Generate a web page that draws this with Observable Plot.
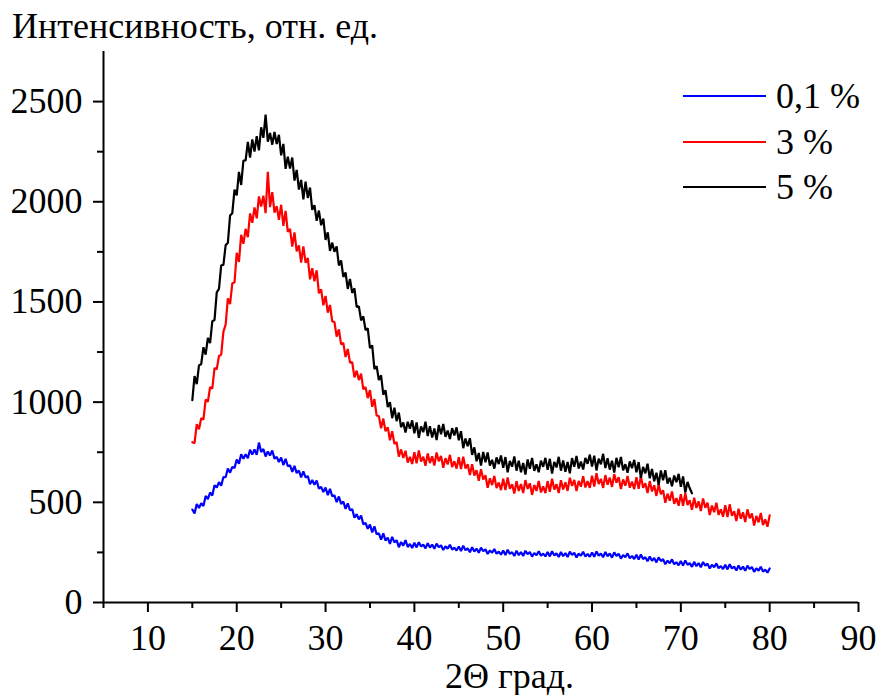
<!DOCTYPE html>
<html>
<head>
<meta charset="utf-8">
<script src="https://cdn.jsdelivr.net/npm/d3@7"></script>
<script src="https://cdn.jsdelivr.net/npm/@observablehq/plot@0.6"></script>
<style>
  html, body { margin: 0; padding: 0; background: #fff; }
  #wrap { position: relative; width: 880px; height: 695px; font-family: "Liberation Serif", "Times New Roman", serif; color: #000; }
  .lbl { position: absolute; font-size: 36px; line-height: 36px; white-space: nowrap; }
  .leg-line { position: absolute; height: 2px; width: 83px; left: 683px; }
</style>
</head>
<body>
<div id="wrap"></div>
<script>
const yTitle = "Интенсивность, отн. ед.";
const xTitle = "2Θ град.";
const seriesNames = ["0,1 %", "3 %", "5 %"];
const seriesColors = ["#0000ff", "#ff0000", "#000000"];
const xMajorTicks = [10, 20, 30, 40, 50, 60, 70, 80, 90];
const xMinorTicks = [5, 15, 25, 35, 45, 55, 65, 75, 85];
const yMajorTicks = [0, 500, 1000, 1500, 2000, 2500];
const yMinorTicks = [250, 750, 1250, 1750, 2250];
const angleStart = 15;
const angleStep = 0.25;

const blue = [
464,444,492,472,495,482,532,516,549,534,585,574,601,583,626,625,669,648,677,671,
714,693,740,718,740,720,762,738,764,737,798,751,766,729,754,734,759,718,727,701,
724,686,717,680,685,652,682,646,659,624,655,624,631,590,611,588,609,568,577,551,
574,536,567,530,535,501,529,492,504,467,495,461,466,423,441,415,434,391,397,368,
389,350,380,341,345,314,345,309,324,293,328,300,311,276,302,284,311,277,292,272,
298,275,301,280,289,270,296,274,289,268,294,276,286,262,280,269,288,264,274,259,
280,257,283,261,270,251,276,254,269,248,274,256,266,242,260,248,267,243,254,239,
260,237,263,242,251,232,258,236,252,232,258,241,252,229,247,236,256,233,244,230,
252,230,256,235,245,227,252,231,247,227,254,237,248,225,244,233,253,230,242,228,
250,228,255,234,244,226,252,231,245,224,250,233,243,219,237,226,245,221,232,217,
238,214,240,217,226,206,230,208,222,200,225,207,216,191,209,196,215,191,201,186,
207,184,210,188,197,178,203,181,197,176,202,184,194,170,188,176,195,171,182,167,
188,165,191,170,179,160,185,164,179,158,184,167,177,153,171,159,178,154,164,149,
170];

const red = [
800,795,890,865,920,913,1013,1002,1075,1068,1170,1164,1230,1237,1352,1387,
1518,1489,1593,1597,1745,1700,1835,1790,1865,1823,1942,1895,1972,1917,2027,1976,2030,1943,2150,1973,2048,1946,1978,1910,
1985,1880,1955,1850,1865,1776,1847,1752,1782,1697,1777,1696,1720,1613,1668,1603,1658,1543,1563,1483,
1530,1447,1485,1403,1400,1327,1363,1288,1295,1225,1265,1197,1200,1124,1157,1110,1142,1064,1075,1020,
1060,977,1015,933,930,870,918,855,875,810,855,792,800,728,764,721,757,698,727,691,
750,695,759,703,728,682,744,696,730,684,749,705,732,672,720,689,737,676,705,668,
725,666,728,669,690,636,690,634,660,608,665,614,635,573,620,586,632,571,599,561,
618,561,624,567,590,544,606,557,591,546,611,567,595,537,587,557,607,549,580,546,
606,552,618,564,590,546,610,564,600,557,623,582,612,556,607,578,630,574,606,572,
633,579,645,591,617,572,636,588,623,577,641,598,625,566,614,583,632,573,603,566,
625,567,630,573,595,546,606,554,585,532,590,540,560,498,543,508,554,493,521,483,
540,483,545,487,510,463,523,472,505,457,519,473,498,437,484,451,498,437,465,428,
485,427,490,433,455,407,468,418,450,402,465,420,445,384,432,400,447,386,415,378,
435];

const black = [
1010,1130,1090,1183,1190,1274,1237,1320,1295,1404,1410,1548,1565,1683,1685,1783,
1795,1931,1943,2061,2032,2149,2084,2205,2206,2299,2221,2311,2251,2327,2257,2372,2319,2435,2300,2343,2285,2348,2288,2334,
2232,2289,2164,2225,2166,2221,2106,2159,2061,2109,2012,2100,2019,2071,1960,1983,1905,1956,1883,1916,
1810,1847,1755,1796,1750,1777,1682,1707,1625,1647,1565,1615,1545,1568,1475,1478,1408,1428,1360,1368,
1270,1283,1165,1180,1110,1134,1037,1060,975,1000,920,972,905,948,875,898,848,902,867,909,
845,899,822,879,850,902,831,880,823,869,811,886,840,891,827,858,816,870,834,874,
810,855,770,818,780,820,737,774,705,746,683,751,700,749,683,712,668,724,691,734,
672,726,650,707,678,729,658,708,650,696,639,714,668,721,657,690,650,708,677,722,
662,717,643,702,674,727,658,709,653,701,645,721,677,731,669,703,664,722,692,738,
678,733,659,718,690,742,671,720,663,708,649,722,675,726,660,690,648,704,670,712,
650,701,622,677,645,693,620,666,605,648,587,659,610,660,593,623,580,634,600,642,
578,629,549,602,570,545];

const allSeries = [blue, red, black];
const rows = allSeries.flatMap((vals, s) =>
  vals.map((v, i) => ({angle: angleStart + i * angleStep, intensity: v, series: seriesNames[s]})));

const chart = Plot.plot({
  width: 880,
  height: 695,
  marginLeft: 103,
  marginRight: 22,
  marginTop: 51,
  marginBottom: 93,
  x: {domain: [5, 90]},
  y: {domain: [0, 2750]},
  color: {domain: seriesNames, range: seriesColors},
  style: {fontFamily: "'Liberation Serif', 'Times New Roman', serif", fontSize: "36px", color: "#000", background: "transparent"},
  marks: [
    Plot.axisY({ticks: yMajorTicks, tickSize: 10, tickPadding: 11, strokeWidth: 2, label: null, fontSize: 36, tickFormat: d => String(d)}),
    Plot.axisY({ticks: yMinorTicks, tickSize: 6, text: null, label: null, strokeWidth: 2}),
    Plot.axisX({ticks: xMajorTicks, tickSize: 10, tickPadding: 12, strokeWidth: 2, label: null, fontSize: 36, tickFormat: d => String(d)}),
    Plot.axisX({ticks: xMinorTicks, tickSize: 6, text: null, label: null, strokeWidth: 2}),
    Plot.ruleX([5], {strokeWidth: 2}),
    Plot.ruleY([0], {strokeWidth: 2}),
    Plot.line(rows, {x: "angle", y: "intensity", z: "series", stroke: "series", strokeWidth: 2.2, strokeLinejoin: "miter"})
  ]
});

const wrap = document.getElementById("wrap");
chart.style.position = "absolute";
chart.style.left = "0px";
chart.style.top = "0px";
wrap.appendChild(chart);

function addLabel(text, left, top) {
  const d = document.createElement("div");
  d.className = "lbl";
  d.textContent = text;
  d.style.left = left + "px";
  d.style.top = top + "px";
  wrap.appendChild(d);
}
addLabel(yTitle, 12, 8);
addLabel(xTitle, 445, 658);

const legendY = [96, 142, 187];
seriesNames.forEach((name, i) => {
  const ln = document.createElement("div");
  ln.className = "leg-line";
  ln.style.top = (legendY[i] - 1) + "px";
  ln.style.background = seriesColors[i];
  wrap.appendChild(ln);
  addLabel(name, 776, legendY[i] - 18);
});
</script>
</body>
</html>
